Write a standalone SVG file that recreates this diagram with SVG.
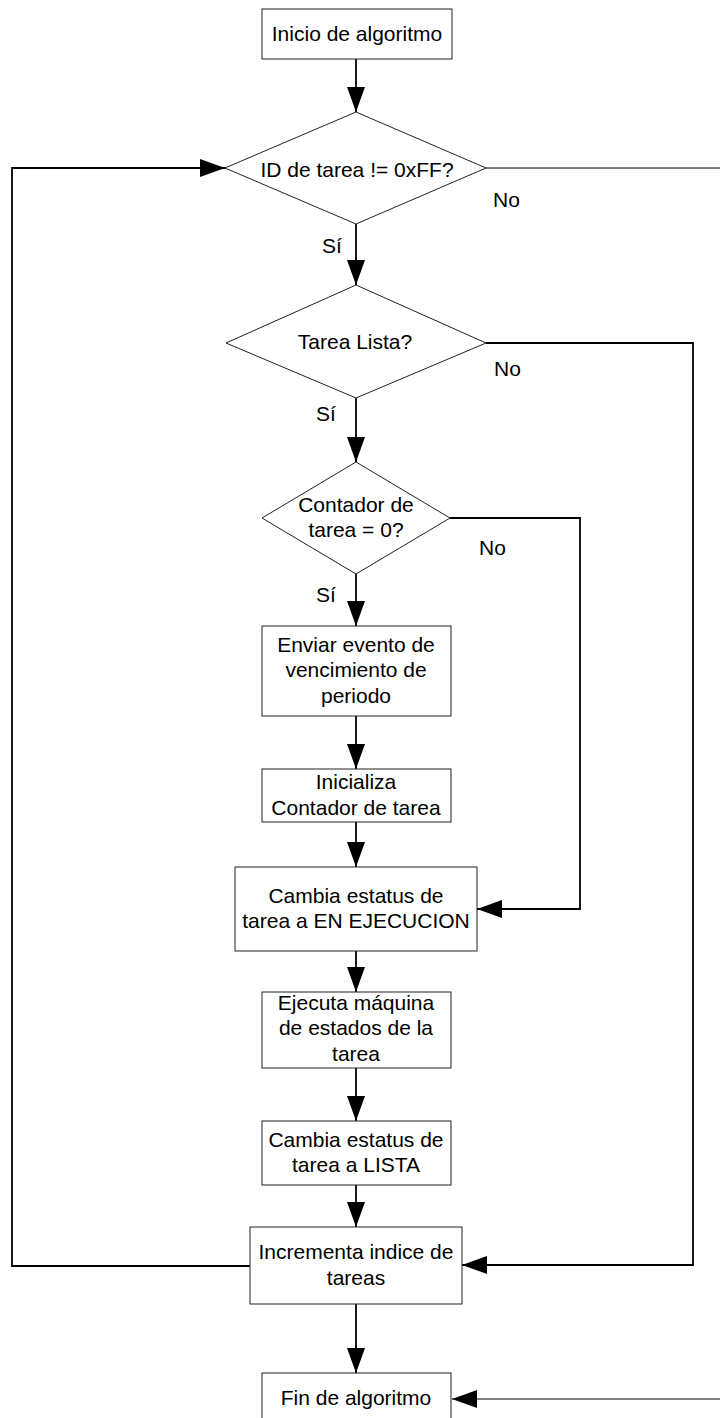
<svg xmlns="http://www.w3.org/2000/svg" width="720" height="1418" viewBox="0 0 720 1418">
<style>
.shape{fill:#fff;stroke:#222;stroke-width:1}
.t{font-family:"Liberation Sans",Arial,sans-serif;font-size:21px;fill:#000;text-anchor:middle}
.lbl{font-family:"Liberation Sans",Arial,sans-serif;font-size:21px;fill:#000}
.c{fill:none;stroke:#000;stroke-width:1.8}
.thin{fill:none;stroke:#000;stroke-width:1}
</style>
<defs>
<marker id="ah" markerUnits="userSpaceOnUse" markerWidth="25" markerHeight="18" refX="25" refY="9" orient="auto">
<path d="M0,0 L25,9 L0,18 z" fill="#000"/>
</marker>
</defs>
<g id="connectors">
<path class="c" d="M356,59 V112" marker-end="url(#ah)"/>
<path class="c" d="M356,224 V285" marker-end="url(#ah)"/>
<path class="thin" d="M486,168 H726 V1399 H452" marker-end="url(#ah)"/>
<path class="c" d="M486,343 H693 V1265 H462" marker-end="url(#ah)"/>
<path class="c" d="M356,398 V462" marker-end="url(#ah)"/>
<path class="c" d="M450,518 H580 V909 H477" marker-end="url(#ah)"/>
<path class="c" d="M356,574 V626" marker-end="url(#ah)"/>
<path class="c" d="M356,716 V769" marker-end="url(#ah)"/>
<path class="c" d="M356,822 V867" marker-end="url(#ah)"/>
<path class="c" d="M356,951 V992" marker-end="url(#ah)"/>
<path class="c" d="M356,1068 V1121" marker-end="url(#ah)"/>
<path class="c" d="M356,1185 V1227" marker-end="url(#ah)"/>
<path class="c" d="M250,1266 H12 V168 H225" marker-end="url(#ah)"/>
<path class="c" d="M356,1304 V1373" marker-end="url(#ah)"/>
<text class="lbl" x="493" y="207">No</text>
<text class="lbl" x="322" y="253">Sí</text>
<text class="lbl" x="494" y="376">No</text>
<text class="lbl" x="316" y="421">Sí</text>
<text class="lbl" x="479" y="555">No</text>
<text class="lbl" x="316" y="602">Sí</text>
</g>
<g id="inicio">
<rect class="shape" x="262" y="9" width="190" height="50"/>
<text class="t" x="357" y="41">Inicio de algoritmo</text>
</g>
<g id="d1">
<polygon class="shape" points="356,112 486,168 356,224 225,168"/>
<text class="t" x="357" y="177">ID de tarea != 0xFF?</text>
</g>
<g id="d2">
<polygon class="shape" points="356,285 486,343 356,398 226,343"/>
<text class="t" x="355" y="349">Tarea Lista?</text>
</g>
<g id="d3">
<polygon class="shape" points="356,462 450,518 356,574 262,518"/>
<text class="t" x="356" y="512">Contador de</text>
<text class="t" x="356" y="537">tarea = 0?</text>
</g>
<g id="enviar">
<rect class="shape" x="262" y="626" width="189" height="90"/>
<text class="t" x="356" y="652">Enviar evento de</text>
<text class="t" x="356" y="677">vencimiento de</text>
<text class="t" x="356" y="703">periodo</text>
</g>
<g id="inicializa">
<rect class="shape" x="262" y="769" width="189" height="53"/>
<text class="t" x="356" y="789">Inicializa</text>
<text class="t" x="356" y="815">Contador de tarea</text>
</g>
<g id="cambia-ejec">
<rect class="shape" x="235" y="867" width="242" height="84"/>
<text class="t" x="356" y="903">Cambia estatus de</text>
<text class="t" x="356" y="928">tarea a EN EJECUCION</text>
</g>
<g id="ejecuta">
<rect class="shape" x="262" y="992" width="189" height="76"/>
<text class="t" x="356" y="1010">Ejecuta máquina</text>
<text class="t" x="356" y="1035">de estados de la</text>
<text class="t" x="356" y="1061">tarea</text>
</g>
<g id="cambia-lista">
<rect class="shape" x="262" y="1121" width="189" height="64"/>
<text class="t" x="356" y="1147">Cambia estatus de</text>
<text class="t" x="356" y="1172">tarea a LISTA</text>
</g>
<g id="incrementa">
<rect class="shape" x="250" y="1227" width="212" height="77"/>
<text class="t" x="356" y="1259">Incrementa indice de</text>
<text class="t" x="356" y="1285">tareas</text>
</g>
<g id="fin">
<rect class="shape" x="262" y="1373" width="189" height="60"/>
<text class="t" x="356" y="1405">Fin de algoritmo</text>
</g>
</svg>
